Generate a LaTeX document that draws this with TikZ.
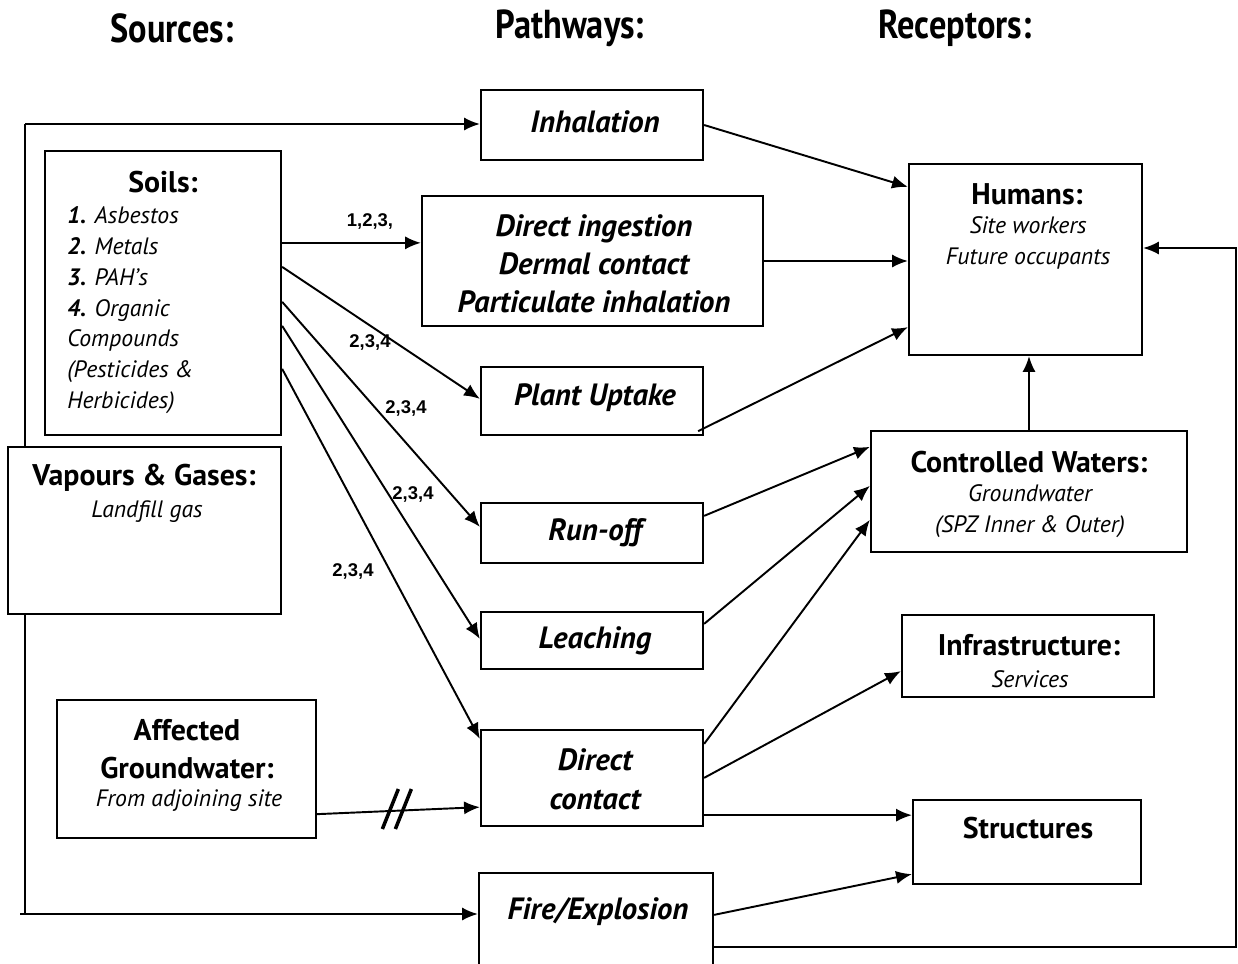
\documentclass[tikz,border=0pt]{standalone}
\usepackage{fontspec}
\setmainfont{PT Sans}
\newfontfamily\hdfont[FakeStretch=0.85]{PT Sans}
\newfontfamily\lblfont{Liberation Sans}
\usetikzlibrary{arrows.meta,calc,fit}
\begin{document}
\begin{tikzpicture}[x=0.02cm,y=-0.02cm,
  box/.style={draw, line width=1.3pt, fill=white, inner sep=0pt},
  arr/.style={line width=1.1pt, -{Latex[length=9pt,width=7.5pt]}},
  plain/.style={line width=1.1pt},
  hd/.style={font=\hdfont\bfseries\fontsize{23}{27}\selectfont},
  ttl/.style={font=\bfseries\fontsize{17}{20}\selectfont, align=center},
  sub/.style={font=\itshape\fontsize{13.5}{17.6}\selectfont, align=center},
  pw/.style={font=\bfseries\itshape\fontsize{17.5}{21}\selectfont, align=center},
  lbl/.style={font=\lblfont\bfseries\fontsize{10.5}{12}\selectfont, inner sep=1pt},
  slash/.style={line width=2pt}
]
\useasboundingbox (0,0) rectangle (1238,964);

% headers
\node[hd] (h-src) at (172,28) {Sources:};
\node[hd] (h-pw) at (570,28) {Pathways:};
\node[hd] (h-rc) at (955,28) {Receptors:};

% left loop (behind boxes)
\coordinate (LT) at (25,124);
\coordinate (LB) at (25,914);
\coordinate (LB0) at (20,914);
\draw[plain] (LT) -- (LB);

% boxes
\node[box, fit={(481,90) (703,160)}] (inh) {};
\node[box, fit={(45,151) (281,435)}] (soils) {};
\node[box, fit={(422,196) (763,326)}] (ding) {};
\node[box, fit={(909,164) (1142,355)}] (hum) {};
\node[box, fit={(481,367) (703,435)}] (plant) {};
\node[box, fit={(8,447) (281,614)}] (vap) {};
\node[box, fit={(871,431) (1187,552)}] (cw) {};
\node[box, fit={(481,503) (703,563)}] (run) {};
\node[box, fit={(481,612) (703,669)}] (leach) {};
\node[box, fit={(902,615) (1154,697)}] (infra) {};
\node[box, fit={(57,700) (316,838)}] (ag) {};
\node[box, fit={(481,730) (703,826)}] (dc) {};
\node[box, fit={(913,800) (1141,884)}] (struct) {};
\node[box, fit={(479,873) (713,975)}] (fire) {};

% texts
\node[pw] (t-inh) at (595,122) {Inhalation};
\node[pw, font=\bfseries\itshape\fontsize{17.5}{21.5}\selectfont] (t-ding) at (594,264) {Direct ingestion\\Dermal contact\\Particulate inhalation};
\node[pw] (t-plant) at (595,398) {Plant Uptake};
\node[pw] (t-run) at (595,533) {Run-off};
\node[pw] (t-leach) at (595,641) {Leaching};
\node[pw, font=\bfseries\itshape\fontsize{17.5}{22}\selectfont] (t-dc) at (595,779) {Direct\\contact};
\node[pw] (t-fire) at (598,912) {Fire/Explosion};

\node[ttl] (t-soils) at (163,182) {Soils:};
\node[sub, align=left, anchor=north west, inner sep=0pt] (t-soils-list) at (67,206)
  {\textbf{1.} Asbestos\\ \textbf{2.} Metals\\ \textbf{3.} PAH’s\\ \textbf{4.} Organic\\ Compounds\\ (Pesticides \&\\ Herbicides)};
\node[ttl] (t-vap) at (144,478) {Vapours \& Gases:};
\node[sub] (t-vap2) at (147,512) {Landfill gas};
\node[ttl, font=\bfseries\fontsize{17}{22}\selectfont] (t-ag) at (187,749) {Affected\\Groundwater:};
\node[sub] (t-ag2) at (189,801) {From adjoining site};

\node[ttl] (t-hum) at (1027,194) {Humans:};
\node[sub] (t-hum2) at (1028,243) {Site workers\\Future occupants};
\node[ttl] (t-cw) at (1029,462) {Controlled Waters:};
\node[sub] (t-cw2) at (1030,511) {Groundwater\\(SPZ Inner \& Outer)};
\node[ttl] (t-infra) at (1029,645) {Infrastructure:};
\node[sub] (t-infra2) at (1030,679) {Services};
\node[ttl] (t-struct) at (1028,828) {Structures};

% loop arrows
\draw[arr] (LT) -- (inh.west |- LT);
\draw[arr] (LB0) -- (fire.west |- LB0);

% pathways to receptors
\draw[arr] (inh.east) -- ($(hum.north west)+(0,24)$);
\draw[arr] (ding.east) -- (ding.east -| hum.west);
\draw[arr] ($(plant.south east)+(-6,-5)$) -- ($(hum.south west)+(0,-29)$);
\draw[arr] (cw.north) -- (cw.north |- hum.south);
\draw[arr] ($(run.north east)+(0,14)$) -- ($(cw.north west)+(0,17)$);
\draw[arr] ($(leach.north east)+(0,13)$) -- ($(cw.north west)+(0,56)$);
\draw[arr] ($(dc.north east)+(0,15)$) -- ($(cw.north west)+(0,90)$);
\draw[arr] ($(dc.north east)+(0,49)$) -- ($(infra.south west)+(0,-27)$);
\coordinate (dcs) at ($(dc.south east)+(0,-12)$);
\draw[arr] (dcs) -- (dcs -| struct.west);
\draw[arr] ($(fire.north east)+(0,43)$) -- ($(struct.south west)+(0,-11)$);
\coordinate (fl) at ($(fire.north east)+(0,75)$);
\coordinate (RT) at (1236,248);
\draw[arr] (fl) -- (fl -| RT) -- (RT) -- (RT -| hum.east);

% soils to pathways
\coordinate (s1) at ($(soils.north east)+(0,93)$);
\draw[arr] (s1) -- (s1 -| ding.west);
\draw[arr] ($(soils.north east)+(0,117)$) -- ($(plant.north west)+(0,33)$);
\draw[arr] ($(soils.north east)+(0,152)$) -- ($(run.north west)+(0,25)$);
\draw[arr] ($(soils.north east)+(0,176)$) -- ($(leach.north west)+(0,28)$);
\draw[arr] ($(soils.north east)+(0,219)$) -- ($(dc.north west)+(0,10)$);

\node[lbl] (l1) at (370,221) {1,2,3,};
\node[lbl] (l2) at (370,342) {2,3,4};
\node[lbl] (l3) at (406,408) {2,3,4};
\node[lbl] (l4) at (413,494) {2,3,4};
\node[lbl] (l5) at (353,571) {2,3,4};

% affected groundwater to direct contact (broken pathway)
\coordinate (a1) at ($(ag.south east)+(0,-25)$);
\coordinate (a2) at ($(dc.south west)+(0,-20)$);
\draw[arr] (a1) -- (a2);
\coordinate (brk) at ($(a1)!0.45!(a2)$);
\draw[slash] ($(brk)+(-8,18)$) -- ($(brk)+(8,-22)$);
\draw[slash] ($(brk)+(5,18)$) -- ($(brk)+(21,-22)$);
\end{tikzpicture}
\end{document}
